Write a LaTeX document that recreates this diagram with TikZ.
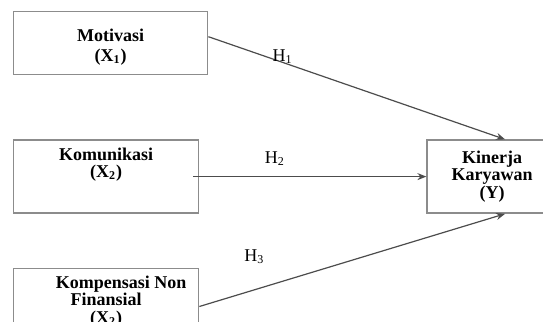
\documentclass[tikz,border=0pt]{standalone}
\usepackage{fontspec}
\setmainfont{Liberation Serif}
\usetikzlibrary{arrows.meta, positioning}

\begin{document}
\begin{tikzpicture}[
		font=\fontsize{9}{8.8}\selectfont,
		box/.style={draw=black!45, line width=0.7pt, rectangle, align=center, inner sep=0pt, font=\fontsize{9}{8.8}\selectfont\bfseries},
		arrow/.style={-{Stealth[length=4.5pt, width=3.5pt]}, draw=black!70, line width=0.6pt},
		hlabel/.style={inner sep=1pt}
		]
		
		\useasboundingbox (0,0) rectangle (271.5pt,-161pt);
		\clip (0,0) rectangle (271.5pt,-161pt);
		
		% Independent variables
		\node (mot) [box, minimum width=97pt, minimum height=31.5pt, anchor=north west] at (6.5pt,-5.5pt) {\rule{0pt}{10pt}Motivasi\\[1pt](X\textsubscript{1})};
		\node (kom) [box, minimum width=92.5pt, minimum height=36.5pt, below right=32pt and 0pt of mot.south west] {Komunikasi\\(X\textsubscript{2})\\[5pt]\mbox{}};
		\node (kmp) [box, minimum width=92.5pt, minimum height=44pt, below right=27pt and 0pt of kom.south west] {\hspace*{15pt}Kompensasi Non\\Finansial\\(X\textsubscript{2})\\[4pt]\mbox{}};
		
		% Dependent variable
		\node (kin) [box, minimum width=65pt, minimum height=36.5pt, right=113.5pt of kom] {Kinerja\\Karyawan\\(Y)};
		
		% Hypotheses
		\draw[arrow] ([yshift=3.25pt]mot.east) -- node[hlabel, pos=0.25, above=-2pt] {H\textsubscript{1}} ([xshift=6.5pt]kin.north);
		\draw[arrow] ([xshift=-3pt]kom.east) -- node[hlabel, pos=0.35, above=4.5pt] {H\textsubscript{2}} (kin.west);
		\draw[arrow] ([yshift=3pt]kmp.east) -- node[hlabel, pos=0.18, above=12pt] {H\textsubscript{3}} ([xshift=6.5pt]kin.south);
		
	\end{tikzpicture}
\end{document}
